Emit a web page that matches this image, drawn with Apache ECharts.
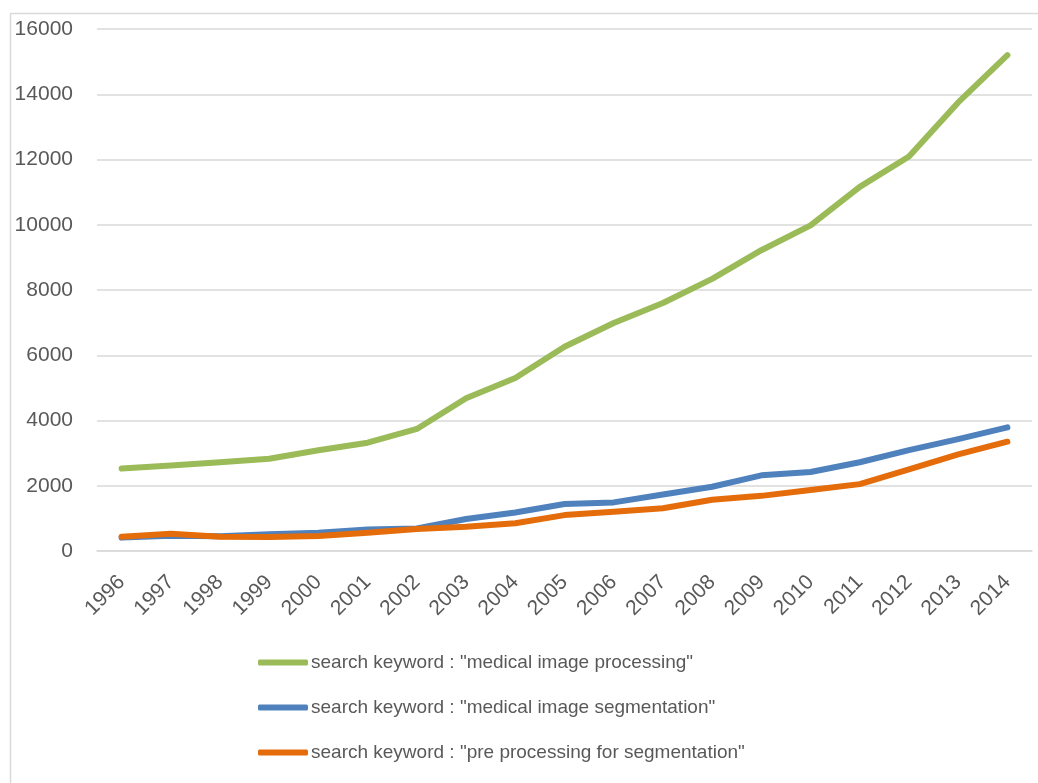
<!DOCTYPE html>
<html>
<head>
<meta charset="utf-8">
<script src="https://cdn.jsdelivr.net/npm/echarts@6/dist/echarts.min.js"></script>
<style>
  html, body { margin: 0; padding: 0; background: #fff; }
  #chart { width: 1038px; height: 783px; }
</style>
</head>
<body>
<div id="chart"></div>
<script>
// Publication counts per year for three search keywords
const years = ['1996','1997','1998','1999','2000','2001','2002','2003','2004','2005',
               '2006','2007','2008','2009','2010','2011','2012','2013','2014'];

const medicalImageProcessing = [2530, 2620, 2720, 2830, 3090, 3320, 3740, 4680, 5300, 6260,
                                6990, 7600, 8340, 9220, 9980, 11160, 12090, 13750, 15200];

const medicalImageSegmentation = [410, 470, 450, 510, 560, 660, 690, 980, 1180, 1440,
                                  1490, 1730, 1970, 2320, 2420, 2720, 3090, 3430, 3790];

const preProcessingForSegmentation = [440, 530, 440, 430, 460, 560, 675, 740, 850, 1100,
                                      1205, 1310, 1570, 1690, 1870, 2050, 2500, 2960, 3350];

const yTicks = { min: 0, max: 16000, interval: 2000 };

const seriesNames = [
  'search keyword : "medical image processing"',
  'search keyword : "medical image segmentation"',
  'search keyword : "pre processing for segmentation"'
];
const seriesColors = ['#9BBB59', '#4F81BD', '#E46C0A'];

const textColor = '#595959';
const gridColor = '#d9d9d9';
const fontFamily = '"Liberation Sans", Arial, sans-serif';

function lineSeries(name, data, color) {
  return {
    name: name,
    type: 'line',
    data: data,
    symbol: 'none',
    showSymbol: false,
    smooth: false,
    animation: false,
    color: color,
    lineStyle: { color: color, width: 6, cap: 'round', join: 'round' },
    itemStyle: { color: color }
  };
}

const chart = echarts.init(document.getElementById('chart'), null, { renderer: 'canvas' });

chart.setOption({
  backgroundColor: '#ffffff',
  animation: false,
  graphic: [{
    type: 'rect',
    shape: { x: 10.5, y: 13.5, width: 1200, height: 1000 },
    style: { fill: 'none', stroke: gridColor, lineWidth: 1.5 },
    silent: true,
    z: -10
  }],
  grid: { left: 97, right: 6, top: 29, bottom: 232, containLabel: false },
  xAxis: {
    type: 'category',
    data: years,
    boundaryGap: true,
    axisLine: { show: true, lineStyle: { color: gridColor, width: 1.5 } },
    axisTick: { show: false },
    splitLine: { show: false },
    axisLabel: {
      rotate: 45,
      margin: 28,
      color: textColor,
      fontSize: 21,
      fontFamily: fontFamily,
      interval: 0
    }
  },
  yAxis: {
    type: 'value',
    min: yTicks.min,
    max: yTicks.max,
    interval: yTicks.interval,
    axisLine: { show: false },
    axisTick: { show: false },
    splitLine: { show: true, lineStyle: { color: gridColor, width: 1.5 } },
    axisLabel: {
      margin: 24,
      color: textColor,
      fontSize: 21,
      fontFamily: fontFamily,
      formatter: function (v) { return String(v); }
    }
  },
  legend: {
    show: true,
    orient: 'vertical',
    left: 253,
    top: 648,
    icon: 'roundRect',
    itemWidth: 50,
    itemHeight: 6,
    itemGap: 26,
    textStyle: { color: textColor, fontSize: 19, fontFamily: fontFamily, padding: [0, 0, 0, -2] },
    data: seriesNames
  },
  series: [
    lineSeries(seriesNames[0], medicalImageProcessing, seriesColors[0]),
    lineSeries(seriesNames[1], medicalImageSegmentation, seriesColors[1]),
    lineSeries(seriesNames[2], preProcessingForSegmentation, seriesColors[2])
  ]
});
</script>
</body>
</html>
